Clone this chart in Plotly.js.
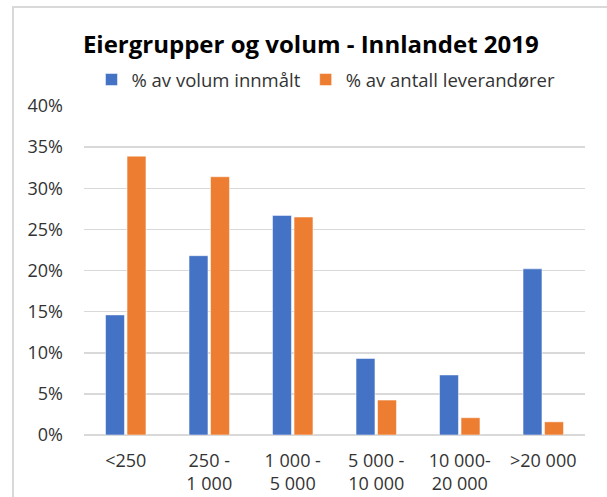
<!DOCTYPE html>
<html>
<head>
<meta charset="utf-8">
<script src="https://cdn.plot.ly/plotly-3.0.1.min.js"></script>
<style>
  html, body { margin: 0; padding: 0; background: #fff; }
  #wrap { position: relative; width: 607px; height: 497px; overflow: hidden; }
  #chart { width: 607px; height: 497px; }
  #frame { position: absolute; left: 12px; top: 6px; width: 600px; height: 500px;
           border-top: 2px solid #d9d9d9; border-left: 2px solid #d9d9d9; pointer-events: none; }
</style>
</head>
<body>
<div id="wrap">
  <div id="chart"></div>
  <div id="frame"></div>
</div>
<script>
const categories = ["<250", "250 -<br>1 000", "1 000 -<br>5 000", "5 000 -<br>10 000", "10 000-<br>20 000", ">20 000"];
const seriesNames = ["% av volum innmålt", "% av antall leverandører"];
const volumShare = [0.146, 0.218, 0.267, 0.093, 0.073, 0.202];
const leverandorShare = [0.339, 0.314, 0.265, 0.0425, 0.021, 0.016];
const yTickVals = [0, 0.05, 0.10, 0.15, 0.20, 0.25, 0.30, 0.35, 0.40];

const font = "Open Sans, Noto Sans, sans-serif";

const traces = [
  {
    type: "bar", name: seriesNames[0], x: categories, y: volumShare,
    marker: { color: "#4472c4", line: { color: "#ffffff", width: 0.5 } },
    hoverinfo: "skip"
  },
  {
    type: "bar", name: seriesNames[1], x: categories, y: leverandorShare,
    marker: { color: "#ed7d31", line: { color: "#ffffff", width: 0.5 } },
    hoverinfo: "skip"
  }
];

const layout = {
  width: 607, height: 497,
  margin: { l: 84, r: 22, t: 106, b: 62 },
  paper_bgcolor: "#ffffff", plot_bgcolor: "#ffffff",
  font: { family: font, color: "#333333" },
  title: {
    text: "<b>Eiergrupper og volum - Innlandet 2019</b>",
    font: { family: font, size: 24, color: "#000000" },
    x: 0.512, xanchor: "center", y: 0.911, yanchor: "middle"
  },
  showlegend: true,
  legend: {
    orientation: "h", x: 0.483, xanchor: "center", y: 1.079, yanchor: "middle",
    font: { family: font, size: 18.5, color: "#333333" },
    itemwidth: 30, traceorder: "normal", tracegroupgap: 0
  },
  barmode: "group",
  bargap: 0.485,
  bargroupgap: 0.12,
  xaxis: {
    type: "category",
    tickfont: { family: font, size: 18, color: "#333333" },
    showgrid: false, showline: false, ticks: "", ticklabelstandoff: 13, fixedrange: true
  },
  yaxis: {
    range: [0, 0.40],
    tickvals: yTickVals,
    tickformat: ".0%",
    tickfont: { family: font, size: 18, color: "#333333" },
    showgrid: true, gridcolor: "#d9d9d9", gridwidth: 1.5,
    zeroline: true, zerolinecolor: "#d9d9d9", zerolinewidth: 1.5,
    showline: false, ticks: "", ticklabelstandoff: 20, fixedrange: true
  }
};

Plotly.newPlot("chart", traces, layout, { displayModeBar: false, staticPlot: true });
</script>
</body>
</html>
